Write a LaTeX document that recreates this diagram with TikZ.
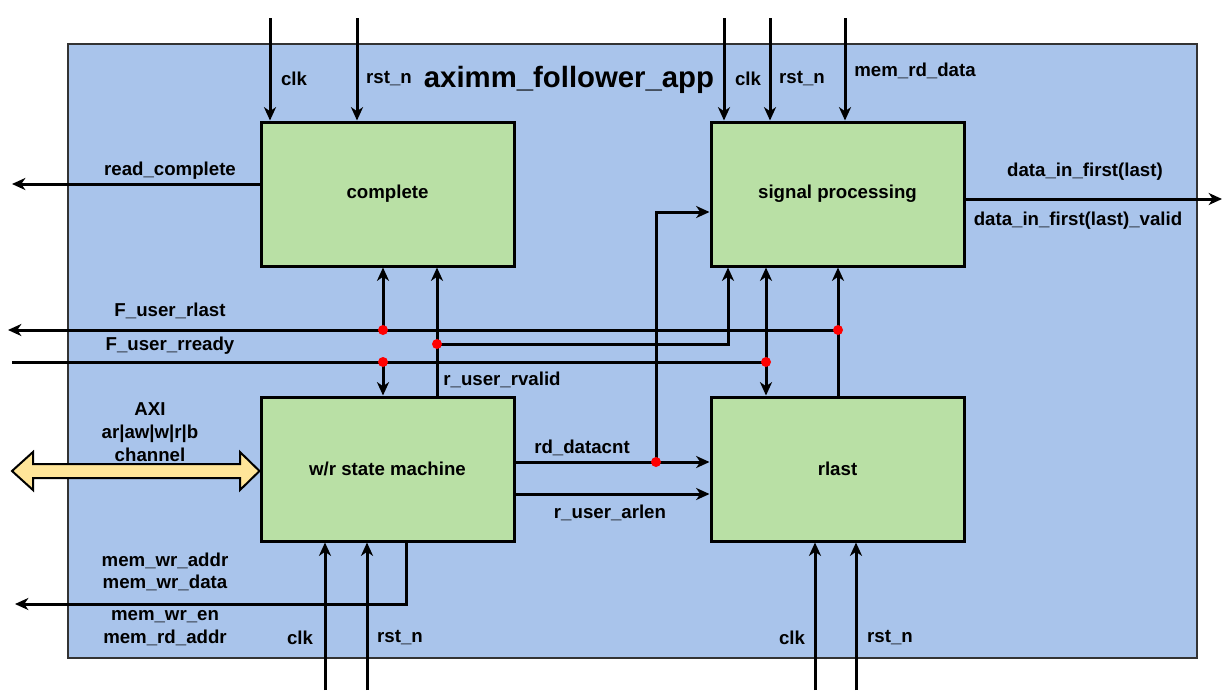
\documentclass[tikz,border=0pt]{standalone}
\usepackage{fontspec}
\setmainfont{Liberation Sans}
\usetikzlibrary{arrows.meta}
\definecolor{outerblue}{HTML}{A9C4EB}
\definecolor{blockgreen}{HTML}{B9E0A5}
\definecolor{busyellow}{HTML}{FFE599}
\tikzset{
  block/.style={draw,line width=2.25pt,fill=blockgreen,minimum width=189.75pt,minimum height=108pt,font=\bfseries\fontsize{14}{17}\selectfont},
  wire/.style={line width=2.25pt},
  sig/.style={wire,-{Stealth[length=10pt,width=9pt,inset=3pt]}},
  bisig/.style={wire,{Stealth[length=10pt,width=9pt,inset=3pt]}-{Stealth[length=10pt,width=9pt,inset=3pt]}},
  lbl/.style={font=\bfseries\fontsize{14}{17}\selectfont,align=center,inner sep=0pt},
  jn/.style={circle,fill=red,inner sep=0pt,minimum size=7.5pt}
}
\begin{document}
\begin{tikzpicture}[x=0.75pt,y=-0.75pt]
\useasboundingbox (0,0) rectangle (1231,697);
\draw[line width=1.5pt,draw=black!80,fill=outerblue] (68,44) rectangle (1197,658);
\node[font=\bfseries\fontsize{22}{26}\selectfont] (title) at (569,80) {aximm\_follower\_app};
\node[block] (cmp) at (387.5,194) {complete};
\node[block] (sp) at (837.5,194) {signal processing};
\node[block] (wr) at (387.5,469) {w/r state machine};
\node[block] (rl) at (837.5,469) {rlast};
\foreach \x/\lx/\ly/\t/\b in {270/294/79/clk/cmp,357/389/79/rst\_n/cmp,724/748/79/clk/sp,770/802/79/rst\_n/sp,845/915/71/mem\_rd\_data/sp}{
  \coordinate (in\x) at (\x,18);
  \draw[sig] (in\x) -- (in\x |- \b.north);
  \node[lbl] (lin\x) at (\lx,\ly) {\t};}
\foreach \x/\lx/\t/\b in {325/300/clk/wr,367/400/rst\_n/wr,815/792/clk/rl,856/890/rst\_n/rl}{
  \coordinate (bt\x) at (\x,690);
  \draw[sig] (bt\x) -- (bt\x |- \b.south);
  \node[lbl] (lbt\x) at (\lx,638) {\t};}
\coordinate (rcOut) at (12,184);
\draw[sig] (cmp.west |- rcOut) -- (rcOut);
\node[lbl] (lrc) at (170,171) {read\_complete};
\coordinate (dOut) at (1222,199);
\draw[sig] (sp.east |- dOut) -- (dOut);
\node[lbl] (ld1) at (1085,172) {data\_in\_first(last)};
\node[lbl] (ld2) at (1078,221) {data\_in\_first(last)\_valid};
\coordinate (j1) at (383,330);
\coordinate (j2) at (838,330);
\coordinate (j3) at (383,362);
\coordinate (j4) at (766,362);
\coordinate (j5) at (437,344);
\coordinate (j6) at (656,462);
\coordinate (rlOut) at (8,330);
\coordinate (rrIn) at (12,362);
\draw[sig] (j2) -- (rlOut);
\draw[sig] (j1) -- (j1 |- cmp.south);
\draw[sig] (rl.north -| j2) -- (j2 |- sp.south);
\draw[wire] (rrIn) -- (j4);
\draw[sig] (j3) -- (j3 |- wr.north);
\draw[bisig] (j4 |- sp.south) -- (j4 |- rl.north);
\node[lbl] (lrl) at (170,311) {F\_user\_rlast};
\node[lbl] (lrr) at (170,346) {F\_user\_rready};
\coordinate (rvB) at (728,344);
\draw[sig] (wr.north -| j5) -- (j5 |- cmp.south);
\draw[sig] (j5) -- (rvB) -- (rvB |- sp.south);
\node[lbl] (lrv) at (502,380) {r\_user\_rvalid};
\coordinate (dcT) at (656,212);
\draw[sig] (wr.east |- j6) -- (j6 -| rl.west);
\draw[sig] (j6) -- (dcT) -- (dcT -| sp.west);
\node[lbl] (ldc) at (582,448) {rd\_datacnt};
\coordinate (alY) at (514,494);
\draw[sig] (wr.east |- alY) -- (alY -| rl.west);
\node[lbl] (lal) at (610,513) {r\_user\_arlen};
\coordinate (memB) at (406,604);
\coordinate (memOut) at (15,604);
\draw[sig] (wr.south -| memB) -- (memB) -- (memOut);
\node[lbl] (lm1) at (165,572) {mem\_wr\_addr\\mem\_wr\_data};
\node[lbl] (lm2) at (165,628) {mem\_wr\_en\\mem\_rd\_addr};
\draw[line width=1.5pt,fill=busyellow,line join=miter] (12,471) -- (33,452) -- (33,464) -- (240,464) -- (240,452) -- (wr.west |- 0,471) -- (240,490) -- (240,478) -- (33,478) -- (33,490) -- cycle;
\node[lbl] (laxi) at (150,432) {AXI\\ar|aw|w|r|b\\channel};
\foreach \j in {1,...,6} \node[jn] (dot\j) at (j\j) {};
\end{tikzpicture}
\end{document}
